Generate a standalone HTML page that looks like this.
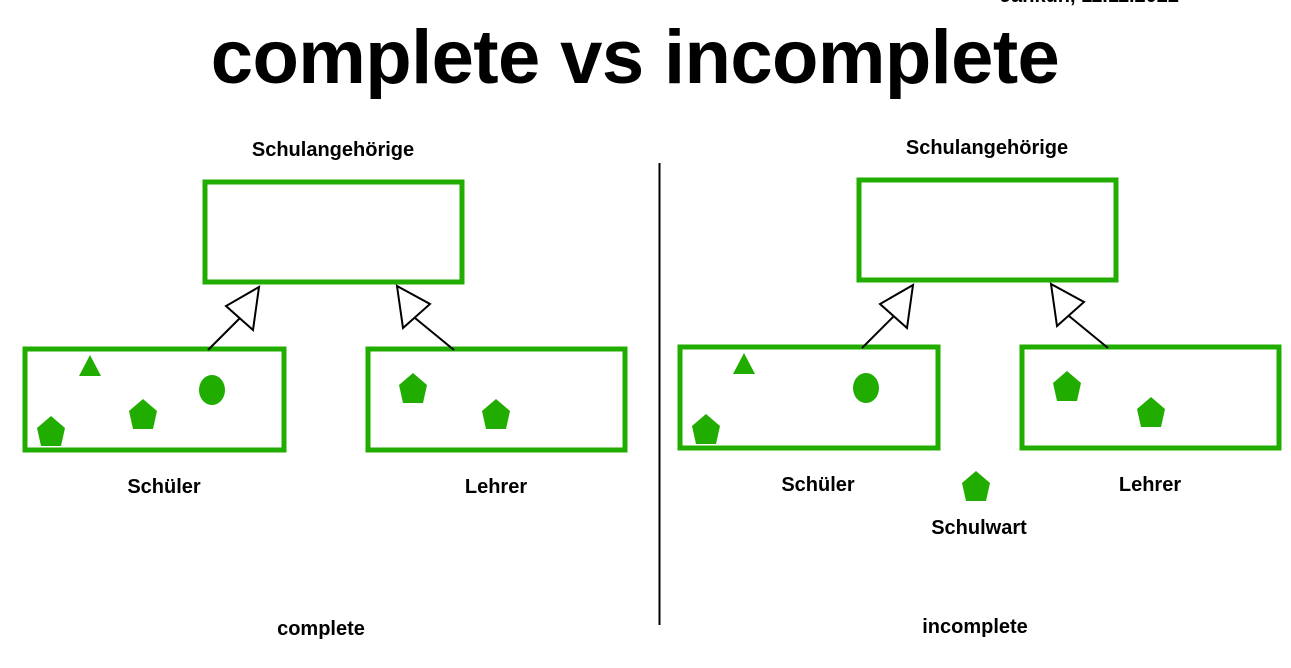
<!DOCTYPE html>
<html><head><meta charset="utf-8"><style>
html,body{margin:0;padding:0;background:#fff;width:1291px;height:668px;overflow:hidden}
svg{display:block}
text{font-family:"Liberation Sans",Arial,sans-serif}
</style></head><body>
<svg width="1291" height="668" viewBox="0 0 1291 668" xmlns="http://www.w3.org/2000/svg">
<defs>
<polygon id="p" points="0,-17 14,-5 10,13 -10,13 -14,-5" fill="#20ad00"/>
</defs>
<text x="1000" y="2" font-size="20" font-weight="bold">Jankun, 11.11.2022</text>
<text x="635" y="83" font-size="76" font-weight="bold" text-anchor="middle" letter-spacing="-0.6">complete vs incomplete</text>
<line x1="659.5" y1="163" x2="659.5" y2="625" stroke="#000" stroke-width="2"/>

<g fill="none" stroke="#20ad00" stroke-width="5">
<rect x="205" y="182" width="257" height="100"/>
<rect x="25" y="349" width="259" height="101"/>
<rect x="368" y="349" width="257" height="101"/>
<rect x="859" y="180" width="257" height="100"/>
<rect x="680" y="347" width="258" height="101"/>
<rect x="1022" y="347" width="257" height="101"/>
</g>
<g stroke="#000" stroke-width="2" fill="#fff">
<line x1="208" y1="350" x2="240" y2="318"/>
<polygon points="259,287 226,306 253,330"/>
<line x1="454" y1="350" x2="415" y2="318"/>
<polygon points="397,286 430,304 403,328"/>
<line x1="862" y1="348" x2="894" y2="316"/>
<polygon points="913,285 880,304 907,328"/>
<line x1="1108" y1="348" x2="1069" y2="316"/>
<polygon points="1051,284 1084,302 1057,326"/>
</g>
<g fill="#20ad00">
<polygon points="90,355 79,376 101,376"/>
<ellipse cx="212" cy="390" rx="13" ry="15"/>
<polygon points="744,353 733,374 755,374"/>
<ellipse cx="866" cy="388" rx="13" ry="15"/>
</g>
<use href="#p" x="51" y="433"/>
<use href="#p" x="143" y="416"/>
<use href="#p" x="413" y="390"/>
<use href="#p" x="496" y="416"/>
<use href="#p" x="706" y="431"/>
<use href="#p" x="1067" y="388"/>
<use href="#p" x="1151" y="414"/>
<use href="#p" x="976" y="488"/>
<g font-size="20" font-weight="bold" text-anchor="middle">
<text x="333" y="156">Schulangehörige</text>
<text x="164" y="493">Schüler</text>
<text x="496" y="493">Lehrer</text>
<text x="321" y="635">complete</text>
<text x="987" y="154">Schulangehörige</text>
<text x="818" y="491">Schüler</text>
<text x="1150" y="491">Lehrer</text>
<text x="979" y="534">Schulwart</text>
<text x="975" y="633">incomplete</text>
</g>
</svg>
</body></html>
